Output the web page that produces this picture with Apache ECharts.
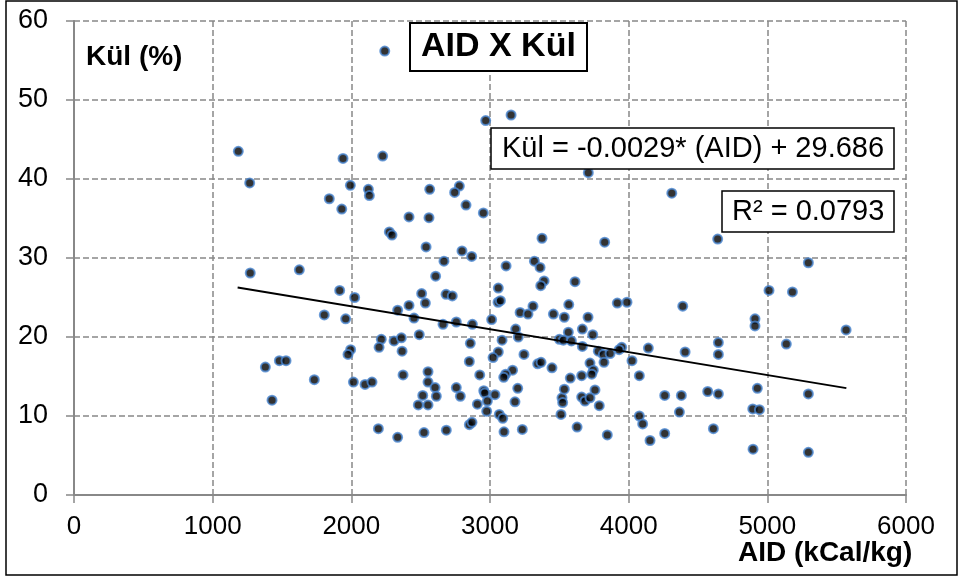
<!DOCTYPE html>
<html>
<head>
<meta charset="utf-8">
<script src="https://cdn.jsdelivr.net/npm/echarts@6/dist/echarts.min.js"></script>
<style>
  html, body { margin: 0; padding: 0; background: #fff; }
  #chart { width: 963px; height: 581px; }
</style>
</head>
<body>
<div id="chart"></div>
<script>
// AID (kCal/kg) values
var aid = [
  1185, 1267, 1940, 1993, 1841, 1931, 2123, 2130, 2241, 2969, 3152, 2226, 3709, 2565, 2779, 2745,
  2827, 2952, 2416, 2560, 2274, 2293, 2539, 2798, 2868, 3375, 2668, 3320, 4311, 3827, 4642, 1271,
  1625, 1916, 2024, 1805, 1959, 1995, 1976, 1481, 1529, 1380, 1733, 2015, 2099, 1428, 3116, 3361,
  3390, 3366, 3613, 2608, 3060, 2507, 2683, 2728, 3058, 3075, 2534, 2416, 2334, 2452, 2661, 2757,
  2873, 3012, 3217, 3274, 3310, 3457, 3536, 3568, 3707, 3185, 3204, 3565, 3666, 3500, 3529, 3587,
  3666, 2490, 2216, 2200, 2308, 2361, 2366, 2858, 3087, 3060, 3022, 3245, 2851, 3344, 3368, 3447,
  3163, 3113, 3099, 2926, 2553, 2373, 2149, 2553, 2604, 2757, 2515, 2613, 2483, 2553, 2786, 2955,
  2962, 3036, 2981, 2909, 2976, 3200, 3180, 3067, 3092, 3101, 3233, 2851, 2870, 2685, 2524, 2334,
  2195, 3519, 3524, 3536, 3512, 3579, 3661, 3661, 3685, 3628, 5296, 5012, 5181, 3918, 3988, 4390,
  4911, 4911, 3741, 4647, 4647, 5137, 3950, 3931, 4142, 4407, 3781, 3817, 3866, 3721, 3745, 3822,
  3734, 4024, 4077, 3757, 3721, 3788, 4260, 4380, 4570, 4647, 4928, 5296, 4366, 4077, 4101, 4895,
  4943, 4611, 3846, 4260, 4154, 4897, 5296, 5568
];
// Kül (%) values, same order
var kul = [
  43.5, 39.5, 42.6, 39.2, 37.5, 36.2, 38.7, 37.9, 56.2, 47.4, 48.1, 42.9, 40.8, 38.7, 39.1, 38.3,
  36.7, 35.7, 35.2, 35.1, 33.3, 32.9, 31.4, 30.9, 30.2, 32.5, 29.6, 29.6, 38.2, 32.0, 32.4, 28.1,
  28.5, 25.9, 25.0, 22.8, 22.3, 18.4, 17.8, 17.0, 17.0, 16.2, 14.6, 14.3, 14.0, 12.0, 29.0, 28.8,
  27.1, 26.5, 27.0, 27.7, 26.2, 25.5, 25.4, 25.2, 24.4, 24.6, 24.3, 24.0, 23.4, 22.4, 21.6, 21.9,
  21.6, 22.2, 23.1, 22.9, 23.9, 22.9, 22.5, 24.1, 22.5, 21.0, 20.0, 20.6, 21.0, 19.7, 19.6, 19.5,
  18.8, 20.3, 19.7, 18.7, 19.5, 19.9, 18.2, 19.2, 19.6, 18.1, 17.4, 17.8, 16.9, 16.6, 16.8, 16.1,
  15.8, 15.3, 14.9, 15.2, 15.6, 15.2, 14.3, 14.3, 13.6, 13.6, 12.6, 12.5, 11.4, 11.4, 12.5, 13.2,
  12.9, 12.7, 11.9, 11.5, 10.6, 13.5, 11.8, 10.2, 9.7, 8.0, 8.3, 8.9, 9.2, 8.2, 7.9, 7.3,
  8.4, 12.3, 11.7, 13.4, 10.2, 14.8, 15.1, 12.4, 11.9, 8.6, 29.4, 25.9, 25.7, 24.3, 24.4, 23.9,
  22.3, 21.4, 20.3, 19.3, 17.8, 19.1, 18.7, 18.4, 18.6, 18.1, 18.2, 17.8, 17.9, 16.7, 15.8, 16.8,
  15.3, 17.0, 15.1, 13.3, 12.3, 11.3, 12.6, 12.6, 13.1, 12.8, 13.5, 12.8, 10.5, 10.0, 9.0, 10.9,
  10.8, 8.4, 7.6, 7.8, 6.9, 5.8, 5.4, 20.9
];
// trend line end points (as drawn)
var trendX = [1180, 5570];
var trendY = [26.26, 13.53];

var titleText = "AID X Kül";
var equationText = "Kül = -0.0029* (AID) + 29.686";
var r2Text = "R² = 0.0793";

var points = aid.map(function (a, i) { return [a, kul[i]]; });
var trend = trendX.map(function (x, i) { return [x, trendY[i]]; });

var myChart = echarts.init(document.getElementById("chart"));
var font = "Liberation Sans, Arial, sans-serif";
var gridLine = { show: true, lineStyle: { color: "#888", width: 1.5, type: [6, 3] } };
var plain = function (v) { return String(v); };

var option = {
  backgroundColor: "#fff",
  animation: false,
  grid: { left: 74, right: 57, top: 21, bottom: 86 },
  xAxis: {
    type: "value",
    min: 0,
    max: 6000,
    interval: 1000,
    axisLine: { show: true, lineStyle: { color: "#888", width: 2 } },
    axisTick: { show: true, length: 8, lineStyle: { color: "#888", width: 1.5 } },
    axisLabel: { color: "#000", fontSize: 26, fontFamily: font, margin: 19, formatter: plain },
    splitLine: gridLine
  },
  yAxis: {
    type: "value",
    min: 0,
    max: 60,
    interval: 10,
    axisLine: { show: true, lineStyle: { color: "#888", width: 2 } },
    axisTick: { show: true, length: 8, lineStyle: { color: "#888", width: 1.5 } },
    axisLabel: { color: "#000", fontSize: 27, fontFamily: font, margin: 26, formatter: plain },
    splitLine: gridLine
  },
  title: [
    {
      text: titleText,
      left: 410, top: 23,
      padding: [6, 11, 6, 11],
      borderColor: "#000", borderWidth: 2,
      backgroundColor: "#fff",
      textStyle: { fontSize: 34, lineHeight: 36, fontWeight: "bold", color: "#000", fontFamily: font }
    },
    {
      text: equationText,
      left: 491, top: 128,
      padding: [6, 10, 6, 11],
      borderColor: "#000", borderWidth: 1.5,
      backgroundColor: "#fff",
      textStyle: { fontSize: 29, lineHeight: 29, fontWeight: "normal", color: "#000", fontFamily: font }
    },
    {
      text: r2Text,
      left: 722, top: 191,
      padding: [6, 10, 6, 10],
      borderColor: "#000", borderWidth: 1.5,
      backgroundColor: "#fff",
      textStyle: { fontSize: 29, lineHeight: 29, fontWeight: "normal", color: "#000", fontFamily: font }
    }
  ],
  graphic: [
    {
      type: "rect",
      shape: { x: 6, y: 1, width: 951, height: 574 },
      style: { fill: null, stroke: "#000", lineWidth: 1.5 },
      silent: true
    },
    {
      type: "text",
      left: 86, top: 43,
      style: { text: "Kül (%)", fontSize: 28, fontWeight: "bold", fill: "#000", fontFamily: font }
    },
    {
      type: "text",
      left: 738, top: 539,
      style: { text: "AID (kCal/kg)", fontSize: 28, fontWeight: "bold", fill: "#000", fontFamily: font }
    }
  ],
  series: [
    {
      name: "Kül",
      type: "scatter",
      data: points,
      symbol: "circle",
      symbolSize: 9,
      itemStyle: { color: "#000", borderColor: "#4a86d0", borderWidth: 2 },
      z: 3
    },
    {
      name: "Trend",
      type: "line",
      data: trend,
      symbol: "none",
      lineStyle: { color: "#000", width: 2 },
      z: 4
    }
  ]
};

myChart.setOption(option);
</script>
</body>
</html>
